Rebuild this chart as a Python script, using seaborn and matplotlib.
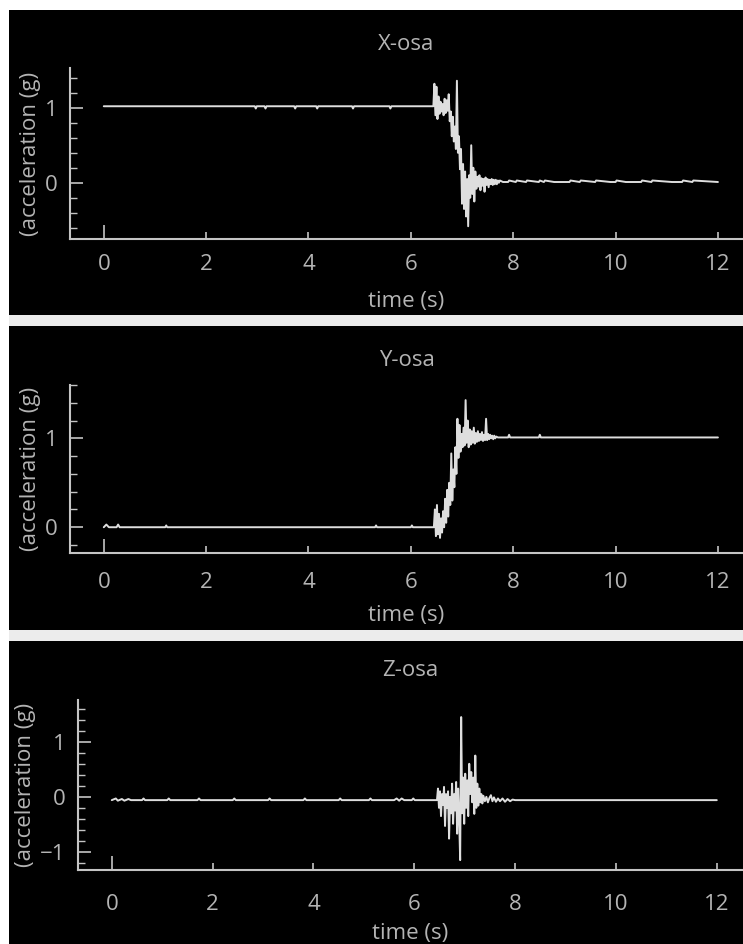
import numpy as np
import pandas as pd
import matplotlib.pyplot as plt
from matplotlib.patches import Rectangle
from matplotlib.ticker import MultipleLocator
import seaborn as sns

# X axis sensor (g)
x_time = [0.0, 2.95, 2.97, 2.99, 3.14, 3.16, 3.18, 3.72, 3.74, 3.76, 4.15, 4.17, 4.19,
          4.85, 4.87, 4.89, 5.58, 5.60, 5.62, 6.44,
          6.46, 6.48, 6.50, 6.52, 6.54, 6.56, 6.58, 6.60, 6.62, 6.64, 6.66, 6.68, 6.70,
          6.72, 6.74, 6.76, 6.78, 6.80, 6.82, 6.84, 6.86, 6.88, 6.90, 6.92, 6.94, 6.96,
          6.98, 7.00, 7.02, 7.04, 7.06, 7.08, 7.10, 7.12, 7.14, 7.16, 7.18, 7.20, 7.22,
          7.24, 7.26, 7.28, 7.30, 7.32, 7.34, 7.36, 7.38, 7.40, 7.42, 7.44, 7.46, 7.48,
          7.50, 7.52, 7.54, 7.56, 7.58, 7.60, 7.62, 7.64, 7.66, 7.68, 7.70, 7.72, 7.74,
          7.80, 7.90, 7.92, 8.05, 8.07, 8.25, 8.27, 8.50, 8.52, 8.60, 8.62, 8.80, 9.00,
          9.10, 9.12, 9.30, 9.32, 9.60, 9.62, 9.90, 10.00, 10.02, 10.20, 10.50, 10.52,
          10.70, 10.72, 11.10, 11.30, 11.32, 11.50, 11.52, 12.00]
x_acc = [1.02, 1.02, 0.99, 1.02, 1.02, 0.99, 1.02, 1.02, 0.99, 1.02, 1.02, 0.99, 1.02,
         1.02, 0.99, 1.02, 1.02, 0.99, 1.02, 1.02,
         1.32, 0.90, 1.28, 0.85, 1.15, 0.92, 1.08, 0.95, 1.05, 0.90, 1.12, 0.93, 1.10,
         0.96, 1.18, 0.82, 0.95, 0.62, 0.88, 0.55, 0.75, 0.45, 1.36, 0.40, 0.62, 0.18,
         0.45, -0.28, 0.25, -0.35, 0.15, -0.45, 0.05, -0.58, 0.10, -0.20, 0.50, -0.15, 0.20,
         -0.25, 0.15, -0.08, 0.08, -0.05, 0.10, -0.10, 0.06, -0.04, 0.05, -0.12, 0.07, -0.03,
         0.05, -0.06, 0.04, -0.02, 0.05, -0.03, 0.04, -0.02, 0.04, -0.02, 0.03, 0.00, 0.03,
         0.01, 0.01, 0.03, 0.01, 0.03, 0.01, 0.03, 0.01, 0.03, 0.01, 0.03, 0.01, 0.01,
         0.01, 0.03, 0.01, 0.03, 0.01, 0.03, 0.01, 0.01, 0.03, 0.01, 0.01, 0.03,
         0.01, 0.03, 0.01, 0.01, 0.03, 0.01, 0.03, 0.01]

# Y axis sensor (g)
y_time = [0.0, 0.05, 0.10, 0.25, 0.28, 0.31, 1.20, 1.22, 1.24, 5.30, 5.32, 5.34,
          6.00, 6.02, 6.04, 6.45,
          6.47, 6.49, 6.51, 6.53, 6.55, 6.57, 6.59, 6.61, 6.63, 6.65, 6.67, 6.69, 6.71,
          6.73, 6.75, 6.77, 6.79, 6.81, 6.83, 6.85, 6.87, 6.89, 6.91, 6.93, 6.95, 6.97,
          6.99, 7.01, 7.03, 7.05, 7.07, 7.09, 7.11, 7.13, 7.15, 7.17, 7.19, 7.21, 7.23,
          7.25, 7.27, 7.29, 7.31, 7.33, 7.35, 7.37, 7.39, 7.41, 7.43, 7.45, 7.47, 7.49,
          7.51, 7.53, 7.55, 7.57, 7.59, 7.61, 7.63, 7.65, 7.67, 7.70,
          7.90, 7.92, 7.94, 8.50, 8.52, 8.54, 12.00]
y_acc = [0.00, 0.03, 0.00, 0.00, 0.03, 0.00, 0.00, 0.02, 0.00, 0.00, 0.02, 0.00,
         0.00, 0.02, 0.00, 0.00,
         0.20, -0.10, 0.25, -0.08, 0.15, -0.12, 0.10, -0.06, 0.18, 0.00, 0.32, 0.05, 0.42,
         0.12, 0.50, 0.25, 0.83, 0.30, 0.65, 0.45, 0.90, 0.60, 1.22, 0.78, 1.15, 0.85,
         1.05, 0.90, 1.12, 0.92, 1.43, 0.95, 1.20, 0.90, 1.10, 0.93, 1.08, 0.95, 1.12,
         0.94, 1.06, 0.96, 1.08, 0.97, 1.05, 0.98, 1.07, 0.97, 1.04, 0.98, 1.22, 0.98,
         1.05, 0.99, 1.04, 1.00, 1.03, 0.99, 1.03, 1.00, 1.02, 1.01,
         1.01, 1.04, 1.01, 1.01, 1.04, 1.01, 1.01]

# Z axis sensor (g)
z_time = [0.0, 0.08, 0.12, 0.20, 0.25, 0.33, 0.38, 0.60, 0.63, 0.66, 1.10, 1.13, 1.16,
          1.70, 1.73, 1.76, 2.40, 2.43, 2.46, 3.10, 3.13, 3.16, 3.80, 3.83, 3.86,
          4.50, 4.53, 4.56, 5.10, 5.13, 5.16, 5.60, 5.65, 5.70, 5.75, 5.80, 5.95,
          5.98, 6.01, 6.45,
          6.47, 6.49, 6.51, 6.53, 6.55, 6.57, 6.59, 6.61, 6.63, 6.65, 6.67, 6.69, 6.71,
          6.73, 6.75, 6.77, 6.79, 6.81, 6.83, 6.85, 6.87, 6.89, 6.91, 6.93, 6.95, 6.97,
          6.99, 7.01, 7.03, 7.05, 7.07, 7.09, 7.11, 7.13, 7.15, 7.17, 7.19, 7.21, 7.23,
          7.25, 7.27, 7.29, 7.31, 7.33, 7.35, 7.37, 7.40, 7.43, 7.46, 7.49, 7.52, 7.55,
          7.58, 7.62, 7.66, 7.70, 7.75, 7.80, 7.85, 7.90, 7.95, 8.00, 12.00]
z_acc = [-0.06, -0.03, -0.07, -0.04, -0.07, -0.04, -0.06, -0.06, -0.03, -0.06, -0.06, -0.03, -0.06,
         -0.06, -0.03, -0.06, -0.06, -0.03, -0.06, -0.06, -0.03, -0.06, -0.06, -0.03, -0.06,
         -0.06, -0.03, -0.06, -0.06, -0.03, -0.06, -0.06, -0.03, -0.07, -0.03, -0.06, -0.06,
         -0.03, -0.06, -0.06,
         0.15, -0.20, 0.10, -0.35, 0.05, -0.15, 0.18, -0.53, 0.05, -0.20, 0.10, -0.76, 0.00,
         -0.30, 0.24, -0.49, 0.05, -0.25, 0.27, -0.67, 0.15, -0.40, -1.15, 1.45, -0.30, 0.35,
         -0.49, 0.42, -0.20, 0.30, -0.35, 0.60, 0.05, 0.45, -0.10, 0.35, -0.31, 0.75, -0.20,
         0.24, -0.16, 0.15, -0.10, 0.05, -0.12, 0.02, -0.08, 0.00, -0.10, -0.02, 0.03, -0.08,
         -0.01, -0.09, -0.03, -0.08, -0.03, -0.09, -0.04, -0.08, -0.05, -0.06, -0.06]

titles = ['X-osa', 'Y-osa', 'Z-osa']
x_ticks = [0, 2, 4, 6, 8, 10, 12]

W, H = 743, 944
TXT = '#b4b4b4'
AXC = '#c4c4c4'
LINE = '#dedede'


def box(left, top, right, bottom):
    return [left / W, 1 - bottom / H, (right - left) / W, (bottom - top) / H]


sns.set_style('dark', rc={'axes.facecolor': 'black', 'figure.facecolor': 'white'})
plt.rcParams['font.family'] = ['Open Sans', 'DejaVu Sans']

fig = plt.figure(figsize=(W / 100, H / 100), dpi=100)
fig.patches.append(Rectangle((9 / W, 0), 1, 1 - 10 / H, transform=fig.transFigure,
                             facecolor='#ececec', edgecolor='none', zorder=-2))
for top, bottom in [(10, 315), (326, 630), (641, 944)]:
    fig.patches.append(Rectangle((9 / W, 1 - bottom / H), 1, (bottom - top) / H,
                                 transform=fig.transFigure, facecolor='black',
                                 edgecolor='none', zorder=-1))

series = [(x_time, x_acc), (y_time, y_acc), (z_time, z_acc)]
boxes = [(70, 68, 743, 239), (70, 385, 743, 553), (78, 700, 743, 870)]
xlims = [(-0.66, 12.49), (-0.66, 12.49), (-0.67, 12.52)]
ylims = [(-0.75, 1.53), (-0.29, 1.6), (-1.33, 1.76)]
yticks = [[0, 1], [0, 1], [-1, 0, 1]]
title_pads = [13, 14, 17.5]
xtick_pads = [11, 14, 17]
xlabel_pads = [11, 8, 6]

for i, (t, a) in enumerate(series):
    ax = fig.add_axes(box(*boxes[i]))
    ax.set_facecolor('black')
    df = pd.DataFrame({'time': t, 'acc': a})
    sns.lineplot(data=df, x='time', y='acc', ax=ax, color=LINE, linewidth=1.4,
                 estimator=None, sort=False)
    ax.set_xlim(*xlims[i])
    ax.set_ylim(*ylims[i])
    ax.set_xticks(x_ticks)
    ax.set_yticks(yticks[i])
    ax.yaxis.set_minor_locator(MultipleLocator(0.2))
    ax.grid(False)
    for s in ['top', 'right']:
        ax.spines[s].set_visible(False)
    for s in ['left', 'bottom']:
        ax.spines[s].set_visible(True)
        ax.spines[s].set_color(AXC)
        ax.spines[s].set_linewidth(1.5)
    ax.tick_params(axis='y', which='major', direction='in', length=9, width=1.2,
                   color=AXC, labelcolor=TXT, labelsize=16, pad=9, left=True)
    ax.tick_params(axis='y', which='minor', direction='in', length=5, width=1.0,
                   color=AXC, left=True)
    ax.tick_params(axis='x', which='major', direction='in', length=5, width=1.2,
                   color=AXC, labelcolor=TXT, labelsize=16, pad=xtick_pads[i], bottom=True)
    ax.xaxis.get_major_ticks()[0].tick1line.set_markersize(10)
    ax.set_title(titles[i], color=TXT, fontsize=16, pad=title_pads[i])
    ax.set_xlabel('time (s)', color=TXT, fontsize=16, labelpad=xlabel_pads[i])
    ax.set_ylabel('(acceleration (g)', color=TXT, fontsize=16, labelpad=3)

fig.savefig('out.png', dpi=100)
